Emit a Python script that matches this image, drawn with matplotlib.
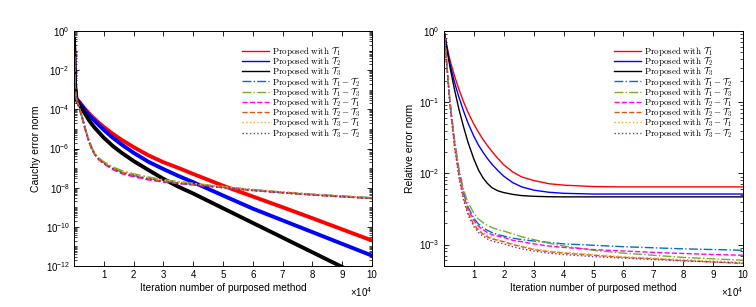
import numpy as np
import matplotlib
matplotlib.use("Agg")
import matplotlib.pyplot as plt
from matplotlib.ticker import FixedLocator, LogLocator, NullFormatter, NullLocator

plt.rcParams['font.family'] = ['Liberation Sans', 'DejaVu Sans']
plt.rcParams['mathtext.fontset'] = 'cm'

# ---- left panel: Cauchy error norm (values stored as log10) ----
x_left = [0, 150, 400, 800, 2000, 3000, 4000, 5000, 6000, 7000, 8500, 10000, 13000,
          16000, 20000, 25000, 30000, 35000, 40000, 50000, 60000, 70000, 80000, 90000, 100000]

cauchy_T1 = [-0.4, -1.6, -2.9, -3.45, -3.66, -3.85, -4.03, -4.2, -4.36, -4.5, -4.71, -4.9, -5.25,
             -5.56, -5.93, -6.35, -6.7, -6.99, -7.3, -7.9, -8.45, -9.0, -9.56, -10.13, -10.7]
cauchy_T2 = [-0.4, -1.6, -2.9, -3.47, -3.7, -3.9, -4.1, -4.28, -4.45, -4.6, -4.83, -5.05, -5.45,
             -5.8, -6.22, -6.68, -7.05, -7.4, -7.72, -8.4, -9.07, -9.67, -10.27, -10.87, -11.47]
cauchy_T3 = [-0.4, -1.6, -2.9, -3.5, -3.8, -4.05, -4.3, -4.55, -4.76, -4.95, -5.2, -5.45, -5.87,
             -6.22, -6.64, -7.1, -7.55, -7.95, -8.3, -9.05, -9.8, -10.55, -11.3, -12.05, -12.8]
cauchy_T1T2 = [-0.4, -1.6, -2.9, -3.45, -4.05, -4.55, -5.12, -5.62, -6.0, -6.28, -6.55, -6.72, -7.0,
               -7.2, -7.37, -7.53, -7.65, -7.74, -7.82, -7.97, -8.12, -8.24, -8.35, -8.44, -8.53]
cauchy_T1T3 = [-0.4, -1.6, -2.9, -3.45, -4.04, -4.53, -5.1, -5.59, -5.97, -6.25, -6.51, -6.68, -6.94,
               -7.13, -7.3, -7.46, -7.59, -7.69, -7.78, -7.95, -8.1, -8.23, -8.34, -8.43, -8.52]
cauchy_T2T1 = [-0.4, -1.6, -2.9, -3.45, -4.07, -4.58, -5.15, -5.65, -6.04, -6.32, -6.6, -6.78, -7.07,
               -7.28, -7.44, -7.6, -7.71, -7.79, -7.85, -7.99, -8.13, -8.25, -8.36, -8.45, -8.54]
cauchy_T2T3 = [-0.4, -1.6, -2.9, -3.45, -4.06, -4.56, -5.13, -5.63, -6.02, -6.3, -6.57, -6.74, -7.02,
               -7.22, -7.39, -7.55, -7.67, -7.76, -7.84, -7.99, -8.14, -8.26, -8.37, -8.46, -8.55]
cauchy_T3T1 = [-0.4, -1.6, -2.9, -3.45, -4.04, -4.54, -5.11, -5.61, -5.99, -6.26, -6.53, -6.7, -6.98,
               -7.18, -7.35, -7.51, -7.63, -7.72, -7.8, -7.95, -8.1, -8.22, -8.33, -8.42, -8.51]
cauchy_T3T2 = [-0.4, -1.6, -2.9, -3.45, -4.06, -4.57, -5.14, -5.64, -6.03, -6.31, -6.58, -6.75, -7.03,
               -7.23, -7.4, -7.56, -7.68, -7.77, -7.85, -8.0, -8.14, -8.26, -8.37, -8.46, -8.55]

# ---- right panel: relative error norm (log10) ----
x_right = [0, 300, 1000, 2000, 3500, 5000, 6500, 8000, 10000, 11500, 13000, 14500, 16000,
           18000, 20000, 23000, 26000, 30000, 35000, 40000, 50000, 60000, 70000, 80000, 90000, 100000]

rel_T1 = [0, -0.05, -0.22, -0.41, -0.63, -0.82, -0.99, -1.14, -1.31, -1.42, -1.52, -1.61, -1.69,
          -1.79, -1.88, -1.98, -2.05, -2.1, -2.145, -2.165, -2.185, -2.19, -2.19, -2.19, -2.19, -2.19]
rel_T2 = [0, -0.06, -0.24, -0.46, -0.72, -0.93, -1.12, -1.29, -1.48, -1.6, -1.7, -1.79, -1.87,
          -1.96, -2.04, -2.13, -2.19, -2.235, -2.265, -2.28, -2.29, -2.29, -2.29, -2.29, -2.29, -2.29]
rel_T3 = [0, -0.07, -0.26, -0.51, -0.82, -1.1, -1.34, -1.56, -1.8, -1.95, -2.06, -2.14, -2.2,
          -2.245, -2.27, -2.295, -2.312, -2.322, -2.328, -2.33, -2.33, -2.33, -2.33, -2.33, -2.33, -2.33]
rel_T1T2 = [0, -0.15, -0.5, -1.0, -1.55, -1.97, -2.27, -2.47, -2.63, -2.71, -2.76, -2.8, -2.83,
            -2.86, -2.88, -2.91, -2.93, -2.95, -2.97, -2.99, -3.01, -3.03, -3.045, -3.06, -3.07, -3.08]
rel_T1T3 = [0, -0.15, -0.49, -0.98, -1.52, -1.93, -2.22, -2.41, -2.56, -2.64, -2.69, -2.73, -2.76,
            -2.79, -2.81, -2.85, -2.89, -2.93, -2.98, -3.02, -3.08, -3.12, -3.15, -3.18, -3.2, -3.22]
rel_T2T1 = [0, -0.15, -0.5, -1.0, -1.56, -1.98, -2.29, -2.5, -2.66, -2.74, -2.79, -2.83, -2.86,
            -2.88, -2.9, -2.94, -2.96, -2.99, -3.02, -3.04, -3.07, -3.09, -3.11, -3.125, -3.14, -3.15]
rel_T2T3 = [0, -0.16, -0.52, -1.03, -1.6, -2.03, -2.34, -2.55, -2.72, -2.8, -2.85, -2.89, -2.92,
            -2.94, -2.96, -3.0, -3.03, -3.07, -3.1, -3.12, -3.15, -3.18, -3.2, -3.225, -3.245, -3.265]
rel_T3T1 = [0, -0.16, -0.51, -1.02, -1.59, -2.02, -2.32, -2.53, -2.7, -2.78, -2.83, -2.87, -2.9,
            -2.93, -2.95, -2.99, -3.02, -3.06, -3.09, -3.11, -3.14, -3.17, -3.19, -3.21, -3.23, -3.25]
rel_T3T2 = [0, -0.17, -0.53, -1.05, -1.62, -2.06, -2.37, -2.58, -2.75, -2.83, -2.88, -2.92, -2.95,
            -2.97, -2.99, -3.03, -3.06, -3.09, -3.12, -3.14, -3.17, -3.19, -3.21, -3.23, -3.245, -3.26]

labels = [r'$\mathrm{Proposed\ with\ }\mathcal{T}_1$',
          r'$\mathrm{Proposed\ with\ }\mathcal{T}_2$',
          r'$\mathrm{Proposed\ with\ }\mathcal{T}_3$',
          r'$\mathrm{Proposed\ with\ }\mathcal{T}_1-\mathcal{T}_2$',
          r'$\mathrm{Proposed\ with\ }\mathcal{T}_1-\mathcal{T}_3$',
          r'$\mathrm{Proposed\ with\ }\mathcal{T}_2-\mathcal{T}_1$',
          r'$\mathrm{Proposed\ with\ }\mathcal{T}_2-\mathcal{T}_3$',
          r'$\mathrm{Proposed\ with\ }\mathcal{T}_3-\mathcal{T}_1$',
          r'$\mathrm{Proposed\ with\ }\mathcal{T}_3-\mathcal{T}_2$']
colors = ['#FF0000', '#0000FF', '#000000', '#0072BD', '#77AC30',
          '#FF00FF', '#D95319', '#EDB120', '#7E2F8E']
styles = ['-', '-', '-', '-.', '-.', '--', '--', ':', ':']

left_series = [cauchy_T1, cauchy_T2, cauchy_T3, cauchy_T1T2, cauchy_T1T3,
               cauchy_T2T1, cauchy_T2T3, cauchy_T3T1, cauchy_T3T2]
right_series = [rel_T1, rel_T2, rel_T3, rel_T1T2, rel_T1T3,
                rel_T2T1, rel_T2T3, rel_T3T1, rel_T3T2]

W, H = 756, 307
fig = plt.figure(figsize=(W / 100, H / 100), dpi=100)
ax1 = fig.add_axes([74 / W, 1 - 266 / H, 298 / W, 235 / H])
ax2 = fig.add_axes([444 / W, 1 - 266 / H, 299 / W, 235 / H])


def style_axis(ax, ylim, yticks):
    ax.set_yscale('log')
    ax.set_xlim(0, 100000)
    ax.set_ylim(*ylim)
    ax.xaxis.set_major_locator(FixedLocator([k * 10000 for k in range(1, 11)]))
    ax.set_xticklabels([str(k) for k in range(1, 11)])
    ax.xaxis.set_minor_locator(NullLocator())
    ax.yaxis.set_major_locator(FixedLocator([10.0 ** p for p in yticks]))
    ax.set_yticklabels([r'$\mathregular{10^{%d}}$' % p for p in yticks])
    ax.yaxis.set_minor_locator(LogLocator(base=10, subs=np.arange(1, 10), numticks=100))
    ax.yaxis.set_minor_formatter(NullFormatter())
    ax.tick_params(which='both', direction='in', top=True, right=True, labelsize=7, pad=3)
    ax.tick_params(which='major', length=3.5, width=0.6)
    ax.tick_params(which='minor', length=2, width=0.5)
    for s in ax.spines.values():
        s.set_linewidth(0.7)
    ax.set_xlabel('Iteration number of purposed method', fontsize=7.3, labelpad=2)


for vals, lab, c, ls in zip(left_series, labels, colors, styles):
    lw = 2.8 if ls == '-' else 1.2
    ax1.plot(x_left, 10.0 ** np.array(vals), color=c, linestyle=ls, linewidth=lw, label=lab)
style_axis(ax1, (1e-12, 1), [0, -2, -4, -6, -8, -10, -12])
ax1.set_ylabel('Cauchy error norm', fontsize=7.5, labelpad=3)

for vals, lab, c, ls in zip(right_series, labels, colors, styles):
    ax2.plot(x_right, 10.0 ** np.array(vals), color=c, linestyle=ls, linewidth=1.0, label=lab)
style_axis(ax2, (5e-4, 1), [0, -1, -2, -3])
ax2.set_ylabel('Relative error norm', fontsize=7.5, labelpad=3)

for ax, x0 in [(ax1, 242), (ax2, 614)]:
    leg = ax.legend(loc='upper left', bbox_to_anchor=(x0 / W, 1 - 44 / H),
                    bbox_transform=fig.transFigure, frameon=False, fontsize=6.5,
                    handlelength=3.0, handletextpad=0.35, labelspacing=-0.42,
                    borderpad=0, borderaxespad=0)
    for h in leg.get_lines():
        h.set_linewidth(1.0)

fig.text(372 / W, 1 - 292 / H, r'$\mathregular{\times10^{4}}$', ha='right', va='center', fontsize=7)
fig.text(743 / W, 1 - 292 / H, r'$\mathregular{\times10^{4}}$', ha='right', va='center', fontsize=7)

fig.savefig('out.png', dpi=100)
